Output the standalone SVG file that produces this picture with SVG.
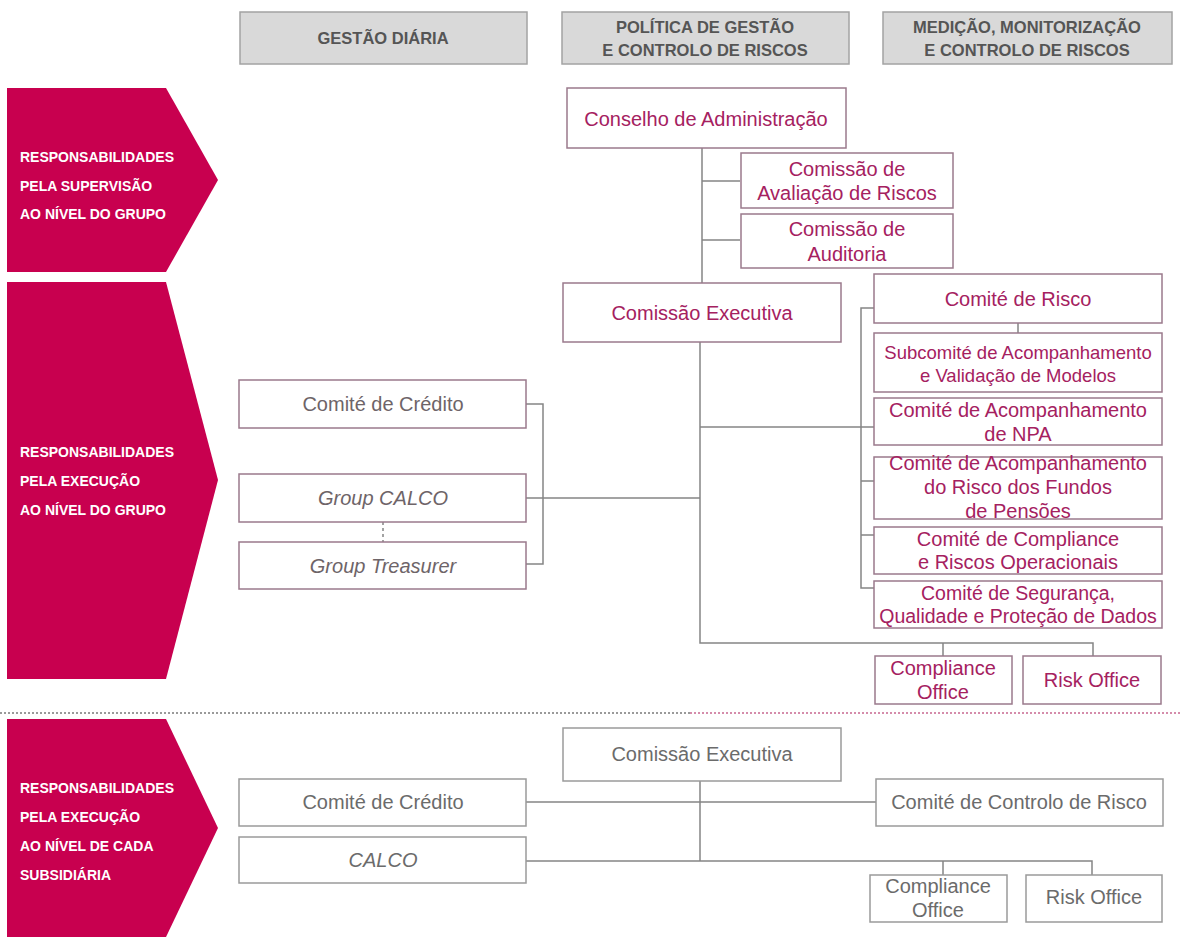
<svg xmlns="http://www.w3.org/2000/svg" width="1181" height="937" viewBox="0 0 1181 937">
<defs>
<style>
.bg{fill:#ffffff}
.hdr rect{fill:#d9d9d9;stroke:#a3a3a3;stroke-width:1.5}
.hdr text{font-family:"Liberation Sans",Arial,sans-serif;font-weight:bold;font-size:16.5px;fill:#555555;text-anchor:middle}
.arr polygon{fill:#c8004f}
.arr text{font-family:"Liberation Sans",Arial,sans-serif;font-weight:bold;font-size:14px;fill:#ffffff}
.pk rect{fill:#ffffff;stroke:#9a7a8c;stroke-width:1.5}
.pk text{font-family:"Liberation Sans",Arial,sans-serif;font-size:20px;fill:#a5215f;text-anchor:middle}
.lg rect{fill:#ffffff;stroke:#9a7a8c;stroke-width:1.5}
.lg text{font-family:"Liberation Sans",Arial,sans-serif;font-size:20px;fill:#6e6468;text-anchor:middle}
.gy rect{fill:#ffffff;stroke:#9a9a9a;stroke-width:1.5}
.gy text{font-family:"Liberation Sans",Arial,sans-serif;font-size:20px;fill:#6b6b6b;text-anchor:middle}
.it{font-style:italic}
.sm{font-size:18.5px !important}
.fit{font-size:19.5px !important}
.con path{fill:none;stroke:#858585;stroke-width:1.5}
.con .dash{stroke-dasharray:3 3}
.sep{fill:none;stroke-width:2;stroke-dasharray:2 2}
</style>
</defs>
<rect class="bg" x="0" y="0" width="1181" height="937"/>

<g id="headers" class="hdr">
<g id="h-gestao"><rect x="240" y="12" width="287" height="52"/><text x="383" y="44">GESTÃO DIÁRIA</text></g>
<g id="h-politica"><rect x="562" y="12" width="287" height="52"/><text x="705" y="33">POLÍTICA DE GESTÃO</text><text x="705" y="56">E CONTROLO DE RISCOS</text></g>
<g id="h-medicao"><rect x="883" y="12" width="289" height="52"/><text x="1027" y="33">MEDIÇÃO, MONITORIZAÇÃO</text><text x="1027" y="56">E CONTROLO DE RISCOS</text></g>
</g>

<g id="bands" class="arr">
<g id="band-supervisao"><polygon points="7,88 166,88 218,180 166,272 7,272"/><text x="20" y="162">RESPONSABILIDADES</text><text x="20" y="191">PELA SUPERVISÃO</text><text x="20" y="219">AO NÍVEL DO GRUPO</text></g>
<g id="band-execucao"><polygon points="7,282 166,282 218,480 166,679 7,679"/><text x="20" y="457">RESPONSABILIDADES</text><text x="20" y="486">PELA EXECUÇÃO</text><text x="20" y="515">AO NÍVEL DO GRUPO</text></g>
<g id="band-subsidiaria"><polygon points="7,719 166,719 218,828 166,937 7,937"/><text x="20" y="793">RESPONSABILIDADES</text><text x="20" y="822">PELA EXECUÇÃO</text><text x="20" y="851">AO NÍVEL DE CADA</text><text x="20" y="880">SUBSIDIÁRIA</text></g>
</g>

<g id="separator">
<line class="sep" x1="0" y1="713" x2="690" y2="713" stroke="#9a9a9a"/>
<line class="sep" x1="690" y1="713" x2="1181" y2="713" stroke="#d58cab"/>
</g>

<g id="connectors" class="con">
<path d="M702,148 V283"/>
<path d="M702,181 H740"/>
<path d="M702,240 H740"/>
<path d="M700,342 V643 H1093 V656"/>
<path d="M943,643 V656"/>
<path d="M700,427 H874"/>
<path d="M874,308 H861 V588 H874"/>
<path d="M861,481 H874"/>
<path d="M861,535 H874"/>
<path d="M1018,323 V333"/>
<path d="M526,404 H543 V564 H526"/>
<path d="M526,498 H700"/>
<path class="dash" d="M383,522 V542"/>
<path d="M700,781 V861"/>
<path d="M526,802 H876"/>
<path d="M526,861 H1092 V875"/>
<path d="M943,861 V875"/>
</g>

<g id="n-conselho" class="pk"><rect x="567" y="88" width="279" height="60"/><text x="706" y="126">Conselho de Administração</text></g>
<g id="n-avaliacao" class="pk"><rect x="741" y="153" width="212" height="55"/><text x="847" y="176">Comissão de</text><text x="847" y="200">Avaliação de Riscos</text></g>
<g id="n-auditoria" class="pk"><rect x="741" y="214" width="212" height="54"/><text x="847" y="236">Comissão de</text><text x="847" y="261">Auditoria</text></g>
<g id="n-exec" class="pk"><rect x="563" y="283" width="278" height="59"/><text x="702" y="320">Comissão Executiva</text></g>
<g id="n-risco" class="pk"><rect x="874" y="274" width="288" height="49"/><text x="1018" y="306">Comité de Risco</text></g>
<g id="n-subcomite" class="pk"><rect x="874" y="333" width="288" height="59"/><text class="sm" x="1018" y="359">Subcomité de Acompanhamento</text><text class="sm" x="1018" y="382">e Validação de Modelos</text></g>
<g id="n-npa" class="pk"><rect x="874" y="398" width="288" height="47"/><text x="1018" y="417">Comité de Acompanhamento</text><text x="1018" y="441">de NPA</text></g>
<g id="n-fundos" class="pk"><rect x="874" y="457" width="288" height="62"/><text x="1018" y="470">Comité de Acompanhamento</text><text x="1018" y="494">do Risco dos Fundos</text><text x="1018" y="518">de Pensões</text></g>
<g id="n-compliance-risco" class="pk"><rect x="874" y="527" width="288" height="47"/><text x="1018" y="546">Comité de Compliance</text><text x="1018" y="569">e Riscos Operacionais</text></g>
<g id="n-seguranca" class="pk"><rect x="874" y="581" width="288" height="47"/><text class="fit" x="1018" y="600">Comité de Segurança,</text><text class="fit" x="1018" y="623">Qualidade e Proteção de Dados</text></g>
<g id="n-compliance-office" class="pk"><rect x="875" y="656" width="137" height="48"/><text x="943" y="675">Compliance</text><text x="943" y="699">Office</text></g>
<g id="n-risk-office" class="pk"><rect x="1023" y="656" width="138" height="48"/><text x="1092" y="687">Risk Office</text></g>

<g id="n-credito" class="lg"><rect x="239" y="380" width="287" height="48"/><text x="383" y="411">Comité de Crédito</text></g>
<g id="n-group-calco" class="lg"><rect x="239" y="474" width="287" height="48"/><text class="it" x="383" y="505">Group CALCO</text></g>
<g id="n-group-treasurer" class="lg"><rect x="239" y="542" width="287" height="47"/><text class="it" x="383" y="573">Group Treasurer</text></g>

<g id="s-exec" class="gy"><rect x="563" y="728" width="278" height="53"/><text x="702" y="761">Comissão Executiva</text></g>
<g id="s-credito" class="gy"><rect x="239" y="779" width="287" height="47"/><text x="383" y="809">Comité de Crédito</text></g>
<g id="s-calco" class="gy"><rect x="239" y="837" width="287" height="46"/><text class="it" x="383" y="867">CALCO</text></g>
<g id="s-controlo" class="gy"><rect x="876" y="779" width="287" height="47"/><text x="1019" y="809">Comité de Controlo de Risco</text></g>
<g id="s-compliance-office" class="gy"><rect x="870" y="875" width="137" height="47"/><text x="938" y="893">Compliance</text><text x="938" y="917">Office</text></g>
<g id="s-risk-office" class="gy"><rect x="1026" y="875" width="136" height="47"/><text x="1094" y="904">Risk Office</text></g>
</svg>
